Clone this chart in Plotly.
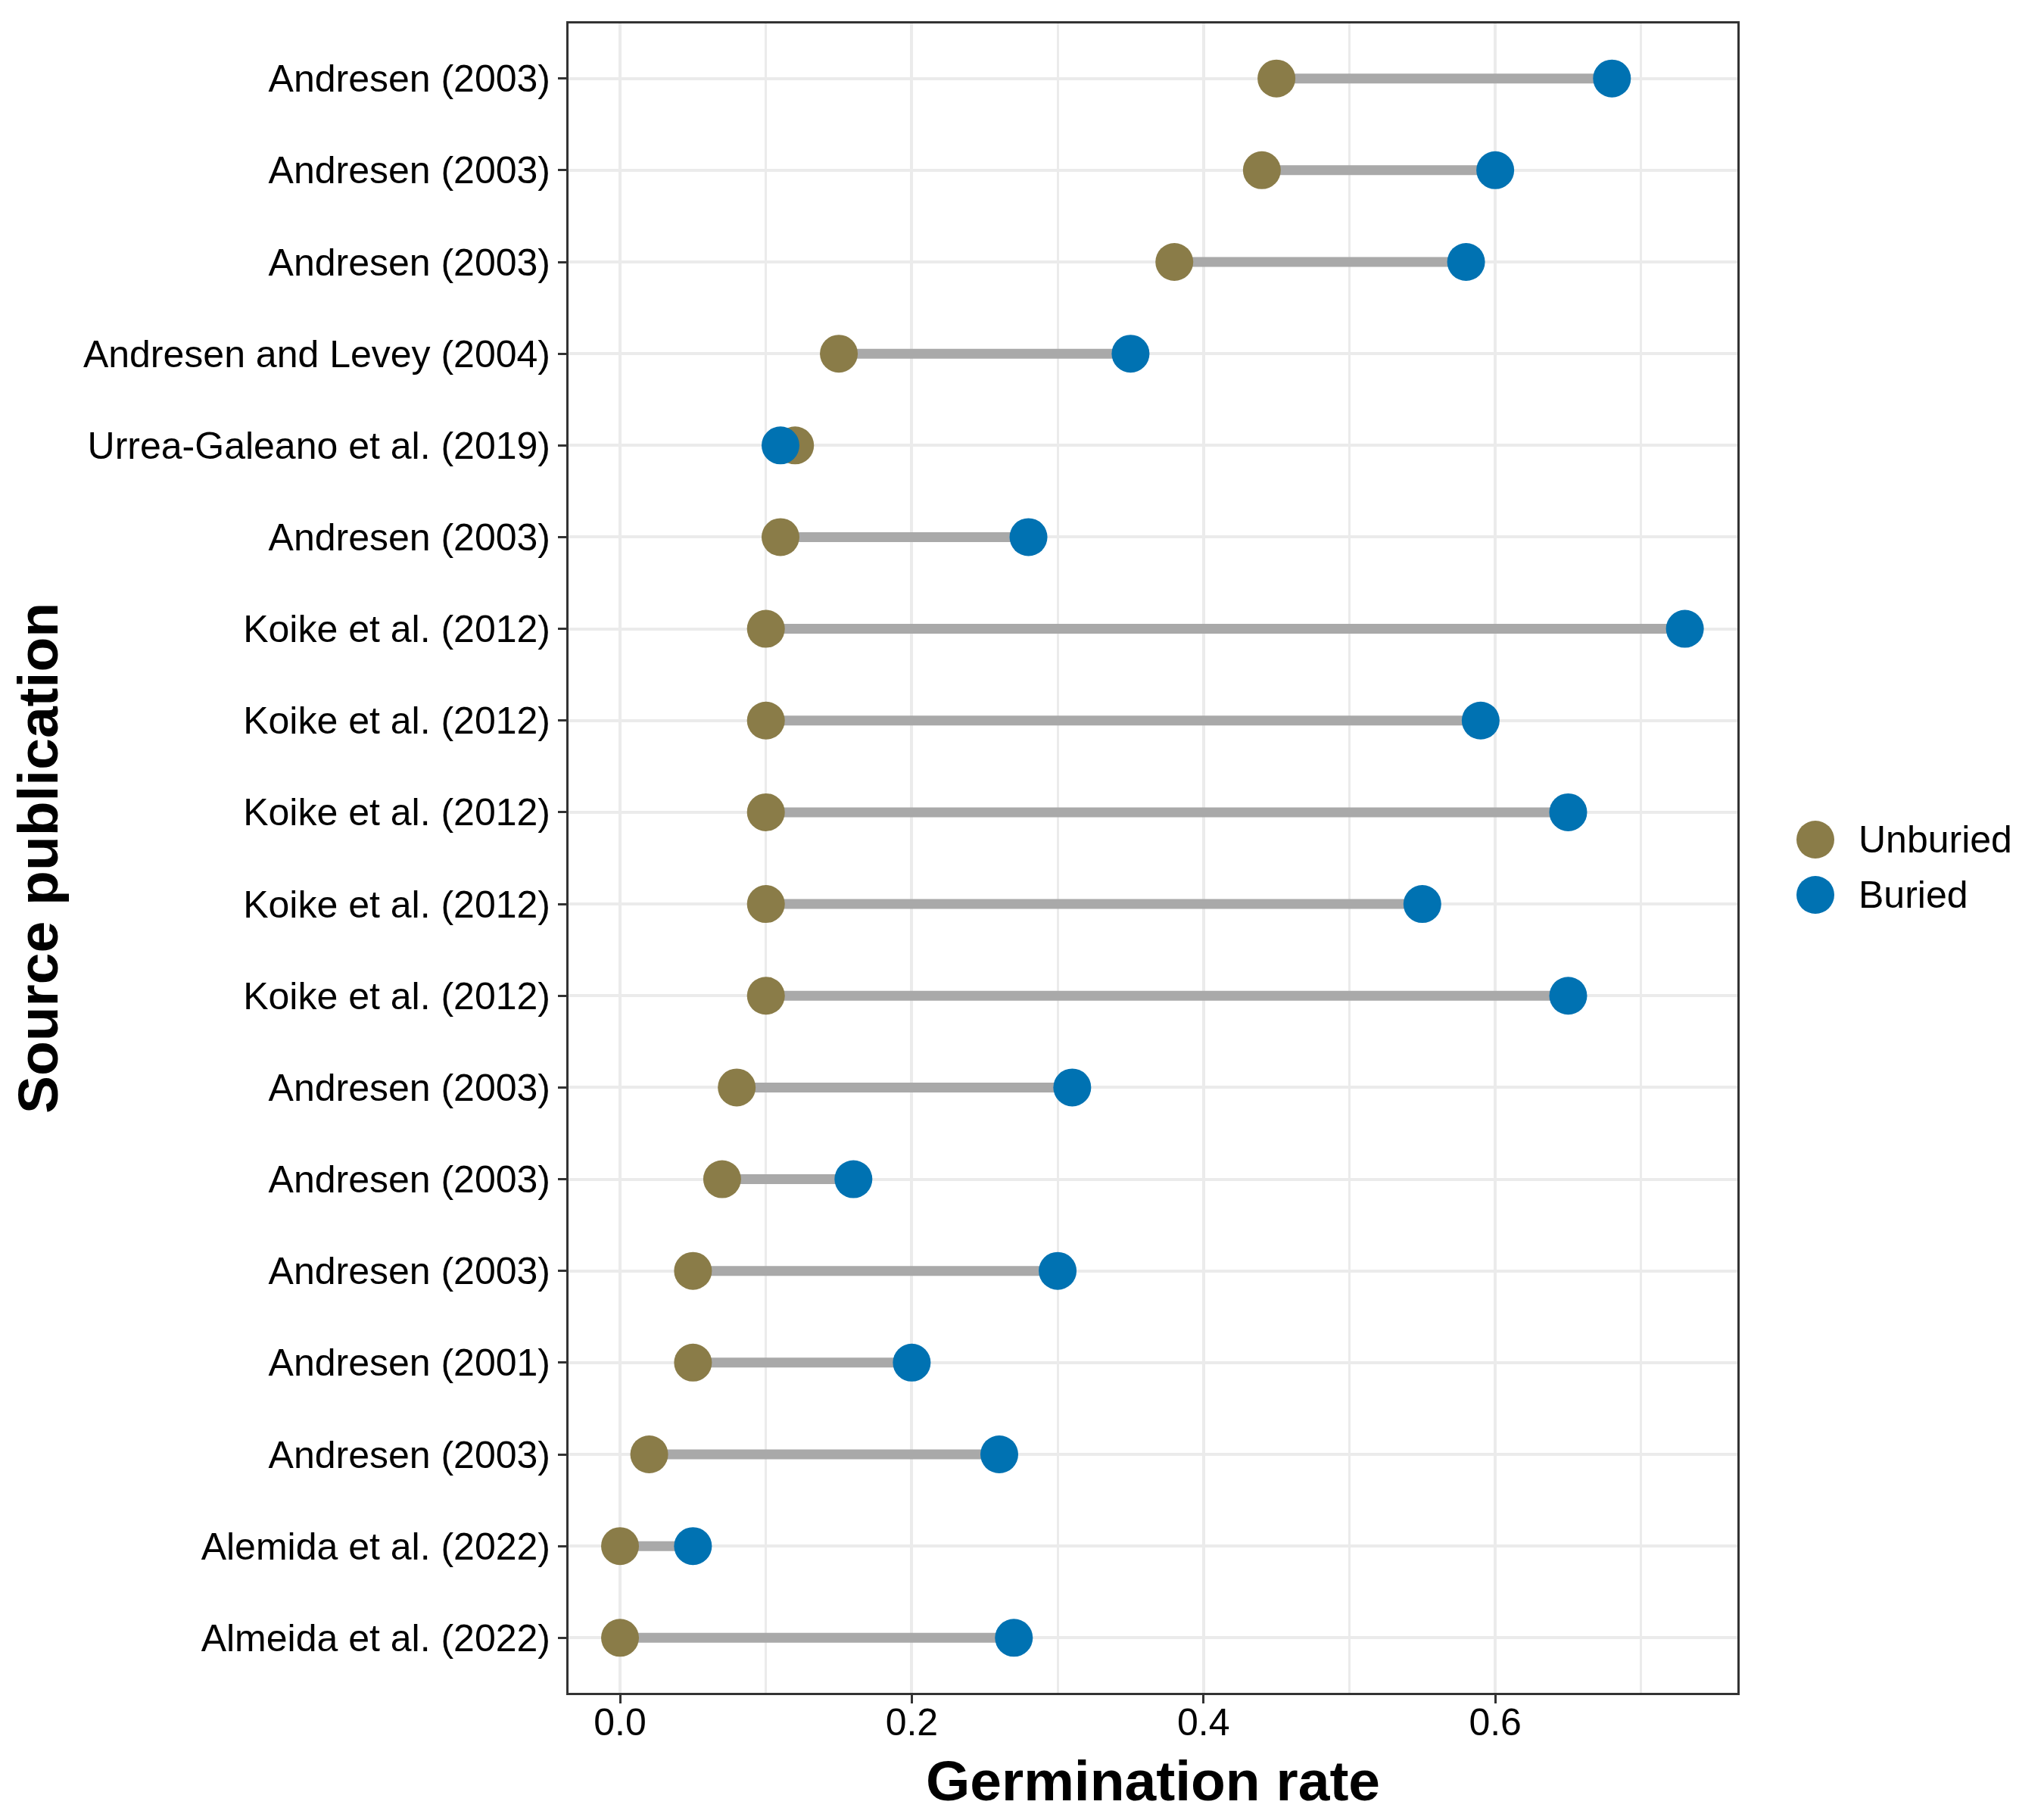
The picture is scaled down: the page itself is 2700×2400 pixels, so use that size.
import plotly.graph_objects as go

# rows listed bottom to top (y = 1 is the bottom row)
sources = [
    "Almeida et al. (2022)", "Alemida et al. (2022)", "Andresen (2003)",
    "Andresen (2001)", "Andresen (2003)", "Andresen (2003)", "Andresen (2003)",
    "Koike et al. (2012)", "Koike et al. (2012)", "Koike et al. (2012)",
    "Koike et al. (2012)", "Koike et al. (2012)", "Andresen (2003)",
    "Urrea-Galeano et al. (2019)", "Andresen and Levey (2004)",
    "Andresen (2003)", "Andresen (2003)", "Andresen (2003)",
]
unburied = [0.00, 0.00, 0.02, 0.05, 0.05, 0.07, 0.08, 0.10, 0.10, 0.10,
            0.10, 0.10, 0.11, 0.12, 0.15, 0.38, 0.44, 0.45]
buried = [0.27, 0.05, 0.26, 0.20, 0.30, 0.16, 0.31, 0.65, 0.55, 0.65,
          0.59, 0.73, 0.28, 0.11, 0.35, 0.58, 0.60, 0.68]
x_ticks = [0.0, 0.2, 0.4, 0.6]

rows = list(range(1, len(sources) + 1))
col_unb = "#8A7C48"
col_bur = "#0072B2"
font = "Liberation Sans, Arial, sans-serif"

# panel box in pixels
L, R, T, B = 743, 2287, 23, 2228

seg_x, seg_y = [], []
for y, a, b in zip(rows, unburied, buried):
    seg_x += [a, b, None]
    seg_y += [y, y, None]

fig = go.Figure()
fig.add_trace(go.Scatter(x=seg_x, y=seg_y, mode="lines",
                         line=dict(color="#A9A9A9", width=13),
                         showlegend=False, hoverinfo="skip"))
fig.add_trace(go.Scatter(x=unburied, y=rows, mode="markers", name="Unburied",
                         marker=dict(color=col_unb, size=50), showlegend=False))
fig.add_trace(go.Scatter(x=buried, y=rows, mode="markers", name="Buried",
                         marker=dict(color=col_bur, size=50), showlegend=False))

# legend drawn by hand so the keys keep the point size
for i, (lab, col) in enumerate([("Unburied", col_unb), ("Buried", col_bur)]):
    ypix = 1101 + i * 73
    yp = 1 - (ypix - T) / (B - T)
    xp = (2390 - L) / (R - L)
    fig.add_shape(type="circle", xref="paper", yref="paper",
                  xsizemode="pixel", ysizemode="pixel",
                  xanchor=xp, yanchor=yp, x0=-25, x1=25, y0=-25, y1=25,
                  fillcolor=col, line=dict(width=0))
    fig.add_annotation(x=(2453 - L) / (R - L), y=yp, xref="paper",
                       yref="paper", text=lab, showarrow=False,
                       xanchor="left", yanchor="middle", xshift=-8,
                       font=dict(size=50, color="black", family=font))

fig.update_layout(
    width=2700, height=2400,
    margin=dict(l=L, r=2700 - R, t=T, b=2400 - B),
    plot_bgcolor="white", paper_bgcolor="white",
    font=dict(family=font, size=50, color="black"),
    showlegend=False,
)
fig.update_xaxes(
    range=[-0.0353, 0.766], tickvals=x_ticks, tickformat=".1f",
    showgrid=True, gridcolor="#EBEBEB", gridwidth=4,
    minor=dict(dtick=0.1, tick0=0, showgrid=True, gridcolor="#EBEBEB", gridwidth=3),
    zeroline=False, showline=True, mirror=True, linecolor="#333333", linewidth=3,
    ticks="outside", ticklen=11, tickwidth=3, tickcolor="#333333",
    tickfont=dict(size=50, color="black"), ticklabelstandoff=-18,
    title=dict(text="Germination rate", standoff=24,
               font=dict(size=75, weight="bold", color="black")),
)
fig.update_yaxes(
    range=[0.4, len(sources) + 0.6], tickvals=rows, ticktext=sources,
    showgrid=True, gridcolor="#EBEBEB", gridwidth=4,
    zeroline=False, showline=True, mirror=True, linecolor="#333333", linewidth=3,
    ticks="outside", ticklen=11, tickwidth=3, tickcolor="#333333",
    tickfont=dict(size=50, color="black"),
    title=dict(text="Source publication", standoff=20,
               font=dict(size=75, weight="bold", color="black")),
)

fig.write_html("out.html")
